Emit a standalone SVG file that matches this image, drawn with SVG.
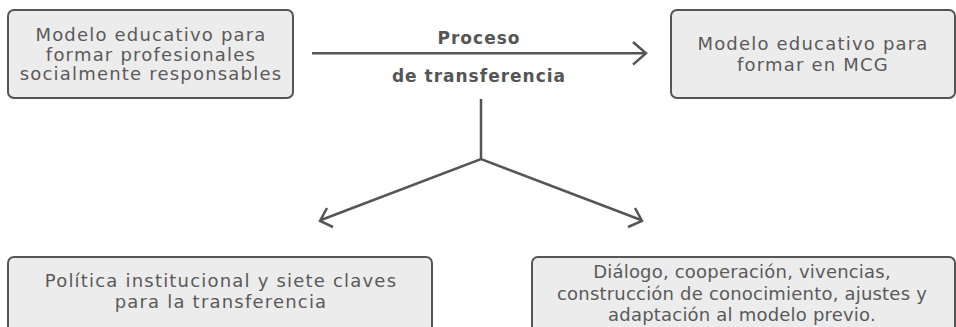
<svg xmlns="http://www.w3.org/2000/svg" width="956" height="327" viewBox="0 0 956 327">
<defs>
<style>
.box{fill:#ececec;stroke:#555555;stroke-width:2}
.t{font-family:"DejaVu Sans","Liberation Sans",sans-serif;font-size:18px;fill:#5a5a5a;text-anchor:middle;letter-spacing:1.2px}
.t2{letter-spacing:0.2px}
.b{font-family:"DejaVu Sans","Liberation Sans",sans-serif;font-size:17px;font-weight:bold;fill:#555555;text-anchor:middle;letter-spacing:1px}
.c{fill:none;stroke:#555555;stroke-width:2.5;stroke-linecap:butt;stroke-linejoin:miter}
</style>
</defs>
<rect width="956" height="327" fill="#ffffff"/>
<g id="node-origen">
<rect class="box" x="8" y="10" width="285" height="88" rx="6"/>
<text class="t" x="151" y="41">Modelo educativo para</text>
<text class="t" x="151" y="60.5">formar profesionales</text>
<text class="t" x="151" y="80">socialmente responsables</text>
</g>
<g id="node-destino">
<rect class="box" x="671" y="10" width="284" height="88" rx="6"/>
<text class="t" x="813" y="49.5">Modelo educativo para</text>
<text class="t" x="813" y="71">formar en MCG</text>
</g>
<g id="node-politica">
<rect class="box" x="8" y="257" width="424" height="80" rx="6"/>
<text class="t" x="221" y="287.3">Política institucional y siete claves</text>
<text class="t" x="221" y="308.3">para la transferencia</text>
</g>
<g id="node-dialogo">
<rect class="box" x="532" y="257" width="423" height="80" rx="6"/>
<text class="t t2" x="742" y="278">Diálogo, cooperación, vivencias,</text>
<text class="t t2" x="742" y="299.5">construcción de conocimiento, ajustes y</text>
<text class="t t2" x="742" y="320.5">adaptación al modelo previo.</text>
</g>
<g id="label-proceso">
<text class="b" x="479" y="44">Proceso</text>
<text class="b" x="479" y="82">de transferencia</text>
</g>
<g id="connectors">
<line class="c" x1="312" y1="53.3" x2="645" y2="53.3"/>
<polyline class="c" points="633,42 646,53.3 633,64.6"/>
<polyline class="c" points="481,99 481,159"/>
<polyline class="c" points="321,220 481,159 641,220"/>
<polyline class="c" points="327,208 320,221 333,227"/>
<polyline class="c" points="635,208 642,221 628,227"/>
</g>
</svg>
